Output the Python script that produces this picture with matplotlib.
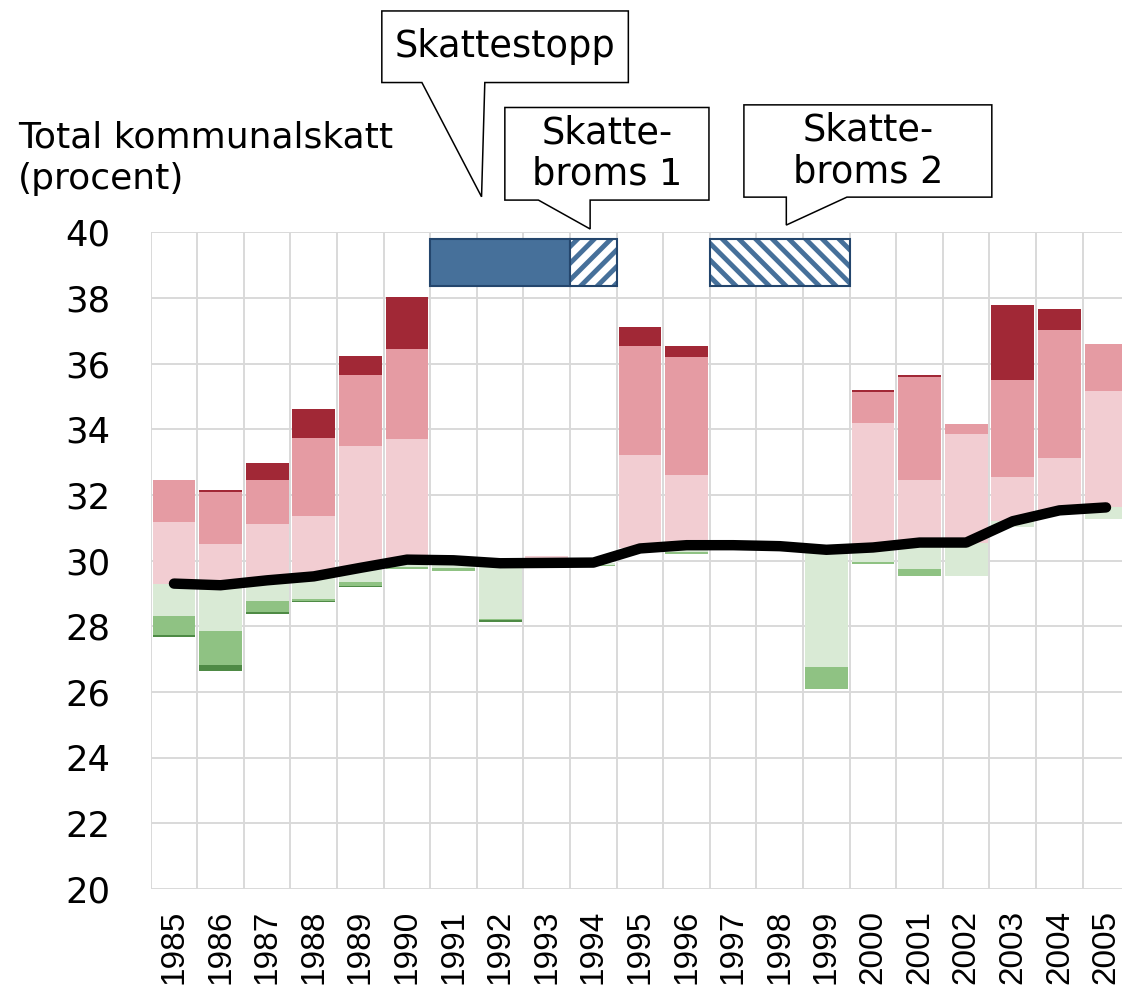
import numpy as np
import matplotlib.pyplot as plt
from matplotlib.patches import Polygon

# ---------------------------------------------------------------
# data
# ---------------------------------------------------------------
years = list(range(1985, 2006))

# average total municipal tax (black line)
avg_tax = [29.30, 29.25, 29.40, 29.52, 29.78, 30.03, 30.01, 29.92, 29.93, 29.94, 30.37,
           30.47, 30.47, 30.44, 30.33, 30.40, 30.55, 30.55, 31.20, 31.53, 31.62]

# levels above the average (light pink, mid pink, dark red tops)
up_light = [31.19, 30.52, 31.13, 31.37, 33.49, 33.69, 30.01, 29.92, 30.15, 29.94, 33.21,
            32.61, 30.47, 30.44, 30.40, 34.18, 32.44, 33.87, 32.56, 33.14, 35.17]
up_mid = [32.45, 32.10, 32.45, 33.72, 35.66, 36.43, 30.01, 29.92, 30.15, 29.94, 36.53,
          36.21, 30.47, 30.44, 30.40, 35.15, 35.58, 34.15, 35.50, 37.03, 36.60]
up_top = [32.45, 32.16, 32.96, 34.62, 36.23, 38.04, 30.01, 29.92, 30.15, 29.94, 37.10,
          36.55, 30.47, 30.44, 30.40, 35.21, 35.64, 34.15, 37.77, 37.65, 36.60]

# levels below the average (light green, mid green, dark green bottoms)
dn_light = [28.32, 27.87, 28.78, 28.84, 29.36, 29.80, 29.79, 28.23, 29.93, 29.87, 30.37,
            30.27, 30.40, 30.44, 26.75, 29.95, 29.75, 29.52, 31.02, 31.53, 31.28]
dn_mid = [27.74, 26.83, 28.42, 28.78, 29.24, 29.74, 29.67, 28.19, 29.93, 29.83, 30.37,
          30.21, 30.36, 30.44, 26.09, 29.89, 29.52, 29.52, 31.02, 31.53, 31.28]
dn_bottom = [27.68, 26.63, 28.38, 28.73, 29.20, 29.74, 29.67, 28.13, 29.93, 29.83, 30.37,
             30.21, 30.36, 30.44, 26.09, 29.89, 29.52, 29.52, 31.02, 31.53, 31.28]

# policy periods (timeline bars)
period_first = [1991, 1994, 1997]
period_last = [1993, 1994, 1999]
period_hatch = [None, '//', '\\\\']

# callouts: text, box (x0, x1, y0, y1), tail base (xa, xb), tip (x, y)
callout_text = ['Skattestopp', 'Skatte-\nbroms 1', 'Skatte-\nbroms 2']
callout_box = [(4.46, 9.75, 44.56, 46.74), (7.10, 11.48, 40.98, 43.80), (12.23, 17.55, 41.07, 43.88)]
callout_base = [(5.32, 6.67), (7.82, 8.93), (13.14, 14.44)]
callout_tip = [(6.60, 41.08), (8.93, 40.10), (13.14, 40.22)]

# ---------------------------------------------------------------
c_pink_light = '#f2cdd2'
c_pink_mid = '#e59ba3'
c_red = '#a12836'
c_green_light = '#d9ead5'
c_green_mid = '#8fc283'
c_green_dark = '#4e8a45'
c_blue = '#46709a'
c_navy = '#24466d'
c_grid = '#d9d9d9'

plt.rcParams['font.family'] = 'DejaVu Sans'
plt.rcParams['hatch.linewidth'] = 3.5

fig = plt.figure(figsize=(11.22, 9.85), dpi=100)
ax = fig.add_axes([0.1343, 0.0975, 0.8722, 0.6667])

x = np.arange(len(years))
w = 0.92

layers = [
    (avg_tax, up_light, c_pink_light),
    (up_light, up_mid, c_pink_mid),
    (up_mid, up_top, c_red),
    (dn_light, avg_tax, c_green_light),
    (dn_mid, dn_light, c_green_mid),
    (dn_bottom, dn_mid, c_green_dark),
]
for lo, hi, col in layers:
    lo = np.array(lo)
    hi = np.array(hi)
    ax.bar(x, hi - lo, bottom=lo, width=w, color=col, linewidth=0, zorder=2)

ax.plot(x, avg_tax, color='black', linewidth=7.5, solid_capstyle='round',
        solid_joinstyle='round', zorder=4)

# timeline bars
for first, last, hatch in zip(period_first, period_last, period_hatch):
    left = years.index(first) - 0.5
    n = last - first + 1
    if hatch is None:
        ax.bar(left, 1.45, bottom=38.35, width=n, align='edge', color=c_blue,
               edgecolor=c_navy, linewidth=1.5, zorder=3)
    else:
        ax.bar(left, 1.45, bottom=38.35, width=n, align='edge', facecolor='white',
               edgecolor=c_blue, hatch=hatch, linewidth=0, zorder=3)
        ax.bar(left, 1.45, bottom=38.35, width=n, align='edge', fill=False,
               edgecolor=c_navy, linewidth=1.5, zorder=3)

# callouts
for txt, box, base, tip in zip(callout_text, callout_box, callout_base, callout_tip):
    x0, x1, y0, y1 = box
    pts = [(x0, y1), (x1, y1), (x1, y0), (base[1], y0), tip, (base[0], y0), (x0, y0)]
    ax.add_patch(Polygon(pts, closed=True, facecolor='white', edgecolor='black',
                         linewidth=1.1, clip_on=False, zorder=5))
    ax.text((x0 + x1) / 2, (y0 + y1) / 2, txt, ha='center', va='center',
            fontsize=26.5, linespacing=1.15, clip_on=False, zorder=6)

# axes, grid
ax.set_xlim(-0.5, len(years) - 0.5)
ax.set_ylim(20, 40)
ax.set_yticks(np.arange(20, 41, 2))
ax.set_xticks(x)
ax.set_xticks(np.arange(-0.5, len(years), 1), minor=True)
ax.set_xticklabels([str(y) for y in years], rotation=90, fontsize=24,
                   family='Liberation Sans')
ax.tick_params(axis='x', which='both', length=0, pad=15)
ax.tick_params(axis='y', length=0, pad=29, labelsize=25.5)
ax.grid(axis='y', which='major', color=c_grid, linewidth=1.4)
ax.grid(axis='x', which='minor', color=c_grid, linewidth=1.4)
ax.set_axisbelow(True)
for s in ax.spines.values():
    s.set_visible(False)

fig.text(18 / 1122, 1 - 121 / 985, 'Total kommunalskatt\n(procent)', fontsize=26,
         ha='left', va='top', linespacing=1.25)

fig.savefig('out.png', dpi=100)
